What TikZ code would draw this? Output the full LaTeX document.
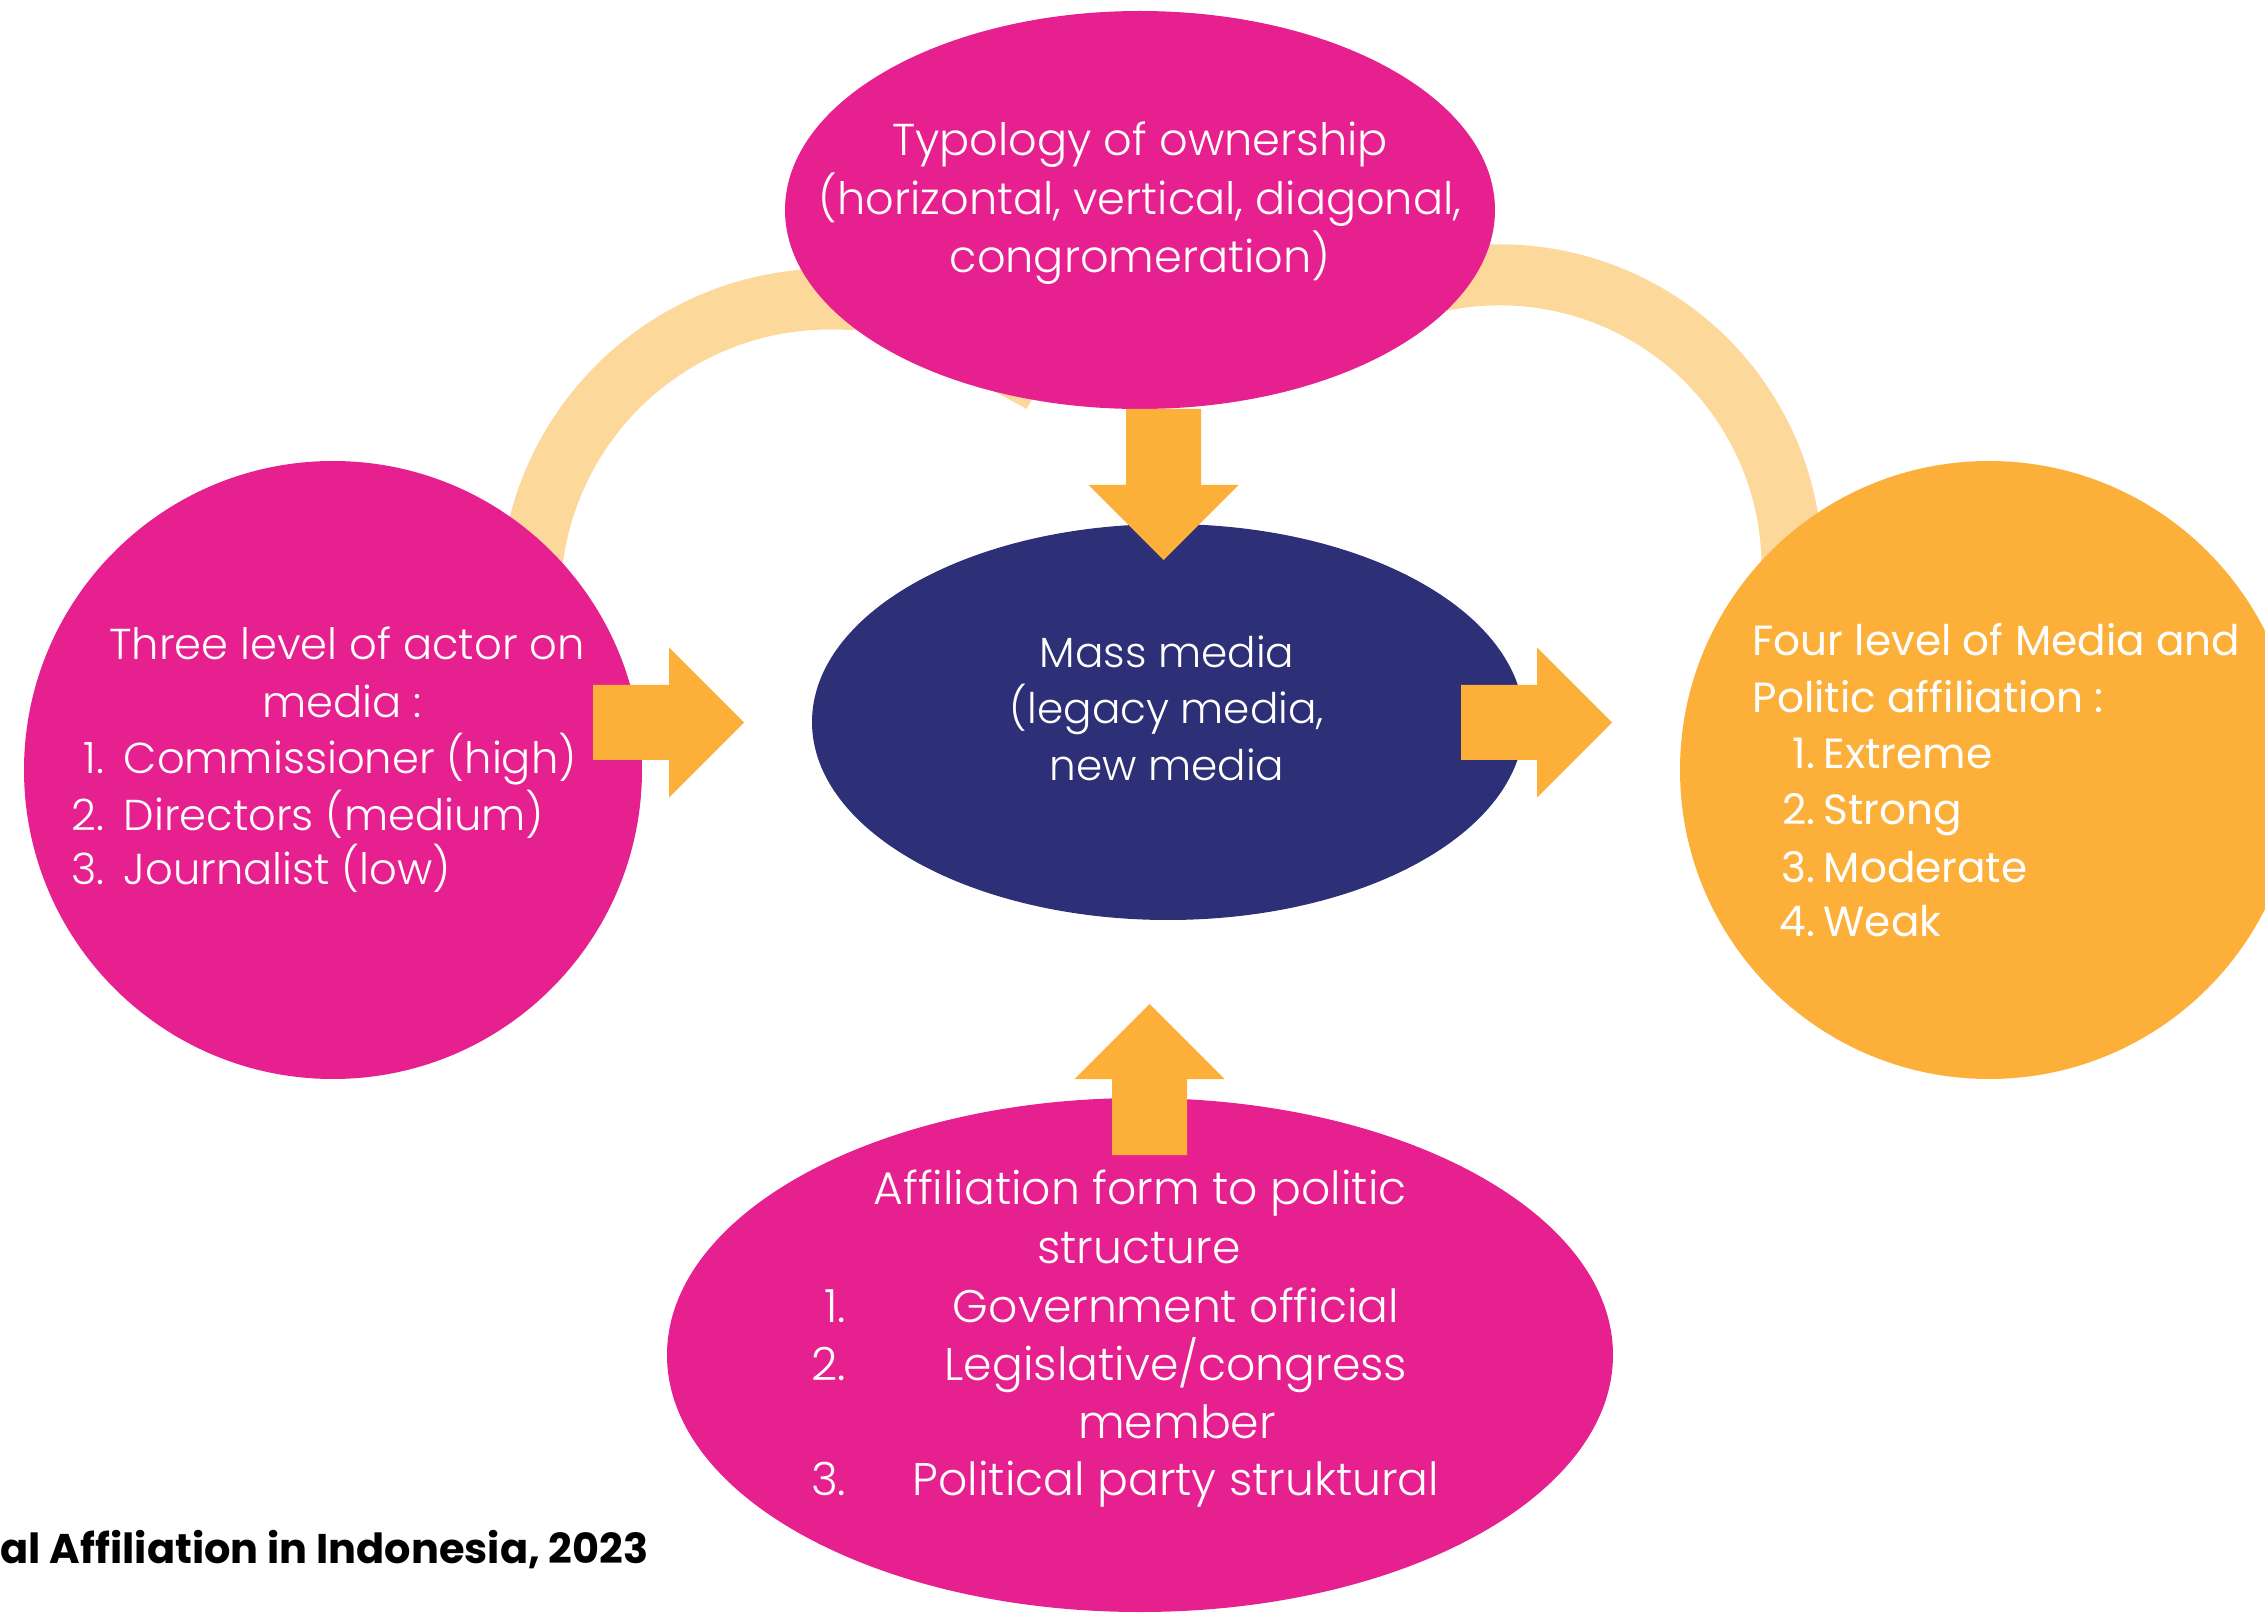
\documentclass[tikz,border=0pt]{standalone}
\usepackage{fontspec}
\setmainfont{Poppins Light}[BoldFont=Poppins Bold]
\newfontfamily\regfont{Poppins}
\usetikzlibrary{shapes.geometric,arrows.meta,backgrounds}

\definecolor{magentapink}{HTML}{E6208F}
\definecolor{navyblue}{HTML}{2D2F77}
\definecolor{amber}{HTML}{FCB03A}
\definecolor{peach}{HTML}{FDD89B}

\tikzset{
  blob/.style={fill=#1, draw=none, inner sep=0pt},
  txt/.style={text=white, inner sep=0pt, font=\fontsize{#1}{14}\selectfont},
  txt/.default=12,
  reg/.style={text=white, inner sep=0pt, font=\regfont\fontsize{12}{14}\selectfont},
  band/.style={draw=peach, line width=0.61cm, line join=round},
  blockarrow/.pic={
    \fill[amber] (0,-0.375) -- (0.76,-0.375) -- (0.76,-0.75) -- (1.51,0)
      -- (0.76,0.75) -- (0.76,0.375) -- (0,0.375) -- cycle;
  },
}

\begin{document}
\begin{tikzpicture}
  \clip (0,0) rectangle (22.65,-16.17);

  \node[blob=magentapink, ellipse, minimum width=7.10cm, minimum height=3.98cm] (owner) at (11.40,-2.10) {};
  \node[blob=navyblue, ellipse, minimum width=7.12cm, minimum height=3.96cm] (media) at (11.68,-7.22) {};
  \node[blob=magentapink, circle, minimum size=6.18cm] (actor) at (3.33,-7.70) {};
  \node[blob=amber, circle, minimum size=6.18cm] (level) at (19.89,-7.70) {};
  \node[blob=magentapink, ellipse, minimum width=9.46cm, minimum height=5.14cm] (struct) at (11.40,-13.55) {};

  \begin{scope}[on background layer]
    \draw[band, -{Triangle[width=0.9cm,length=0.45cm]}] (actor.center) -- (5.30,-5.99)
      .. controls (5.30,-4.33) and (6.64,-2.99) .. (8.30,-2.99)
      .. controls (9.30,-2.99) and (10.05,-3.30) .. (10.265,-4.09);
    \draw[band] (owner.center) -- (13.54,-3.14) arc[start angle=120, end angle=-10, radius=2.92] -- (level.center);
  \end{scope}

  \pic (down) at (11.635,-4.09) [rotate=-90] {blockarrow};
  \pic (up) at (11.495,-11.55) [rotate=90] {blockarrow};
  \pic (left) at (5.93,-7.225) {blockarrow};
  \pic (right) at (14.61,-7.225) {blockarrow};

  \node[txt=12.7, anchor=base] (own1) at (11.40,-1.56) {Typology of ownership};
  \node[txt=12.7, anchor=base] (own2) at (11.40,-2.15) {(horizontal, vertical, diagonal,};
  \node[txt=12.7, anchor=base] (own3) at (11.40,-2.73) {congromeration)};

  \node[txt, anchor=base] (med1) at (11.67,-6.68) {Mass media};
  \node[txt, anchor=base] (med2) at (11.67,-7.24) {(legacy media,};
  \node[txt, anchor=base] (med3) at (11.67,-7.81) {new media};

  \node[txt=12.3, anchor=base] (act1) at (3.47,-6.60) {Three level of actor on};
  \node[txt=12.3, anchor=base] (act2) at (3.42,-7.17) {media :};
  \node[txt=12.3, anchor=base east] (actn1) at (1.05,-7.74) {1.};
  \node[txt=12.3, anchor=base west] (acti1) at (1.23,-7.74) {Commissioner (high)};
  \node[txt=12.3, anchor=base east] (actn2) at (1.05,-8.30) {2.};
  \node[txt=12.3, anchor=base west] (acti2) at (1.23,-8.30) {Directors (medium)};
  \node[txt=12.3, anchor=base east] (actn3) at (1.05,-8.85) {3.};
  \node[txt=12.3, anchor=base west] (acti3) at (1.23,-8.85) {Journalist (low)};

  \node[reg, anchor=base west] (lev1) at (17.52,-6.56) {Four level of Media and};
  \node[reg, anchor=base west] (lev2) at (17.52,-7.13) {Politic affiliation :};
  \node[reg, anchor=base east] (levn1) at (18.16,-7.69) {1.};
  \node[reg, anchor=base west] (levi1) at (18.23,-7.69) {Extreme};
  \node[reg, anchor=base east] (levn2) at (18.16,-8.25) {2.};
  \node[reg, anchor=base west] (levi2) at (18.23,-8.25) {Strong};
  \node[reg, anchor=base east] (levn3) at (18.16,-8.82) {3.};
  \node[reg, anchor=base west] (levi3) at (18.23,-8.82) {Moderate};
  \node[reg, anchor=base east] (levn4) at (18.16,-9.37) {4.};
  \node[reg, anchor=base west] (levi4) at (18.23,-9.37) {Weak};

  \node[txt=13, anchor=base] (str1) at (11.40,-12.04) {Affiliation form to politic};
  \node[txt=13, anchor=base] (str2) at (11.39,-12.63) {structure};
  \node[txt=13, anchor=base east] (strn1) at (8.47,-13.22) {1.};
  \node[txt=13, anchor=base] (stri1) at (11.76,-13.22) {Government official};
  \node[txt=13, anchor=base east] (strn2) at (8.47,-13.80) {2.};
  \node[txt=13, anchor=base] (stri2) at (11.76,-13.80) {Legislative/congress};
  \node[txt=13, anchor=base] (stri2b) at (11.77,-14.38) {member};
  \node[txt=13, anchor=base east] (strn3) at (8.47,-14.95) {3.};
  \node[txt=13, anchor=base] (stri3) at (11.76,-14.95) {Political party struktural};

  \node[anchor=base west, inner sep=0pt, font=\bfseries\fontsize{11.8}{14}\selectfont] (caption) at (0,-15.63) {al Affiliation in Indonesia, 2023};
\end{tikzpicture}
\end{document}
